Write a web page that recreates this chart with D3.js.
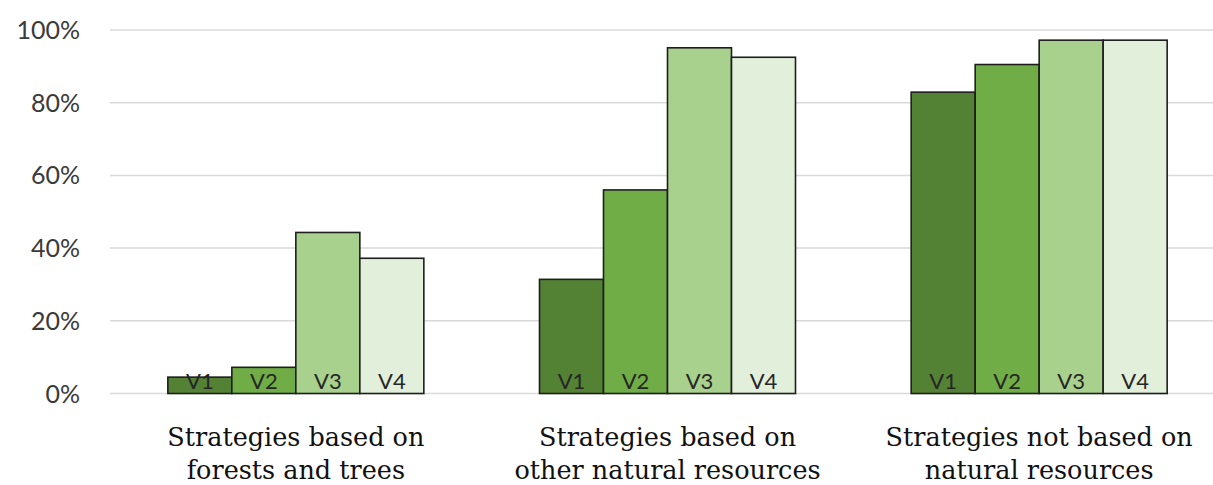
<!DOCTYPE html>
<html>
<head>
<meta charset="utf-8">
<script src="https://cdn.jsdelivr.net/npm/d3@7"></script>
<style>
  body { margin: 0; background: #fff; }
  svg { display: block; }
  .ytick { font-family: Lato, "Liberation Sans", sans-serif; font-size: 25px; fill: #3a3a3a; }
  .vlabel { font-family: Lato, "Liberation Sans", sans-serif; font-size: 22px; fill: #262626; }
  .cat { font-family: "DejaVu Serif", serif; font-size: 25.5px; fill: #111; }
</style>
</head>
<body>
<svg id="chart" width="1213" height="485"></svg>
<script>
// chart data
let categories = [
    ["Strategies based on", "forests and trees"],
    ["Strategies based on", "other natural resources"],
    ["Strategies not based on", "natural resources"]
];
let seriesNames = ["V1", "V2", "V3", "V4"];
let seriesColors = ["#548235", "#70ad47", "#a9d18e", "#e2efda"];
let v1 = [4.5, 31.4, 82.9];
let v2 = [7.2, 56.0, 90.5];
let v3 = [44.3, 95.1, 97.2];
let v4 = [37.2, 92.5, 97.2];
let yTicks = [0, 20, 40, 60, 80, 100];

let values = [v1, v2, v3, v4];

let svg = d3.select("#chart");

let x0 = d3.scaleBand()
    .domain(d3.range(categories.length))
    .range([110, 1225])
    .paddingInner(0)
    .paddingOuter(0);

// bars take 256 of every 371 px band
let groupWidth = 256;
let x1 = d3.scaleBand()
    .domain(seriesNames)
    .range([0, groupWidth]);

let y = d3.scaleLinear()
    .domain([0, 100])
    .range([393.5, 30]);

// gridlines
svg.append("g")
    .selectAll("line")
    .data(yTicks)
    .enter().append("line")
    .attr("x1", 110)
    .attr("x2", 1213)
    .attr("y1", d => y(d))
    .attr("y2", d => y(d))
    .attr("stroke", "#d9d9d9")
    .attr("stroke-width", 1.5);

// y tick labels
svg.append("g")
    .selectAll("text")
    .data(yTicks)
    .enter().append("text")
    .attr("class", "ytick")
    .attr("x", 80)
    .attr("y", d => y(d) + 9)
    .attr("text-anchor", "end")
    .text(d => d + "%");

// bars
let groups = svg.append("g")
    .selectAll("g")
    .data(categories)
    .enter().append("g")
    .attr("transform", (d, i) => "translate(" + (x0(i) + (x0.bandwidth() - groupWidth) / 2) + ",0)");

groups.each(function (d, i) {
    let g = d3.select(this);
    seriesNames.forEach(function (s, k) {
        g.append("rect")
            .attr("x", x1(s))
            .attr("y", y(values[k][i]))
            .attr("width", x1.bandwidth())
            .attr("height", y(0) - y(values[k][i]))
            .attr("fill", seriesColors[k])
            .attr("stroke", "#1e1e1e")
            .attr("stroke-width", 1.6);
    });
    seriesNames.forEach(function (s, k) {
        g.append("text")
            .attr("class", "vlabel")
            .attr("x", x1(s) + x1.bandwidth() / 2)
            .attr("y", 389)
            .attr("text-anchor", "middle")
            .text(s);
    });
});

// category labels
groups.each(function (d) {
    let g = d3.select(this);
    d.forEach(function (line, j) {
        g.append("text")
            .attr("class", "cat")
            .attr("x", groupWidth / 2)
            .attr("y", 446 + j * 33)
            .attr("text-anchor", "middle")
            .text(line);
    });
});
</script>
</body>
</html>
